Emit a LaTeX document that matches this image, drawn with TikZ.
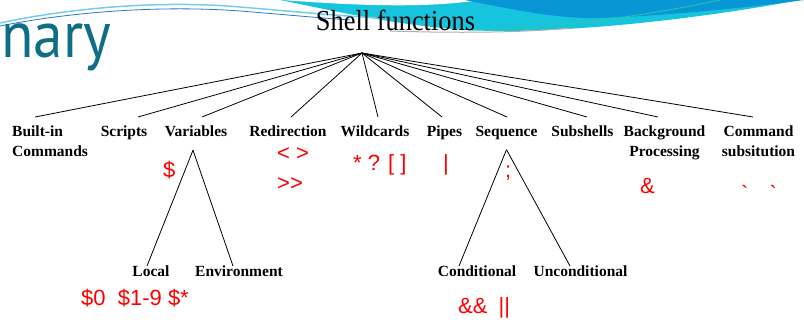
\documentclass[tikz,border=0pt]{standalone}
\usepackage{fontspec}
\setmainfont{Liberation Serif}
\newfontfamily\symfont[Ligatures=TeXOff]{Liberation Sans}
\newfontfamily\titlefont{PT Sans}
\definecolor{symred}{RGB}{255,0,0}
\definecolor{titleteal}{RGB}{14,110,133}
\definecolor{waveblue}{RGB}{8,150,215}
\definecolor{wavecyan}{RGB}{22,196,222}
\definecolor{wavelight}{RGB}{120,205,235}
\definecolor{wavedeep}{RGB}{40,120,210}
\definecolor{wavegreen}{RGB}{40,205,160}
\definecolor{wavegrey}{RGB}{175,175,175}

\begin{document}
\begin{tikzpicture}[x=1pt,y=-1pt,
  topic/.style={font=\bfseries\fontsize{15.5}{20}\selectfont, inner xsep=0pt,
    inner ysep=9pt, text depth=4pt, anchor=north, align=center},
  subtopic/.style={font=\bfseries\fontsize{15.5}{20}\selectfont, inner sep=0pt,
    anchor=north},
  sym/.style={font=\symfont\fontsize{22}{30}\selectfont, text=symred,
    inner sep=0pt, anchor=base west},
  branch/.style={draw=black, line width=0.8pt}]

\useasboundingbox (0,0) rectangle (804,322);

% decorative wave along the top edge
\fill[wavecyan] (280,0) .. controls (340,12) and (420,31) .. (500,31)
  .. controls (600,31) and (720,15) .. (800,0) -- cycle;
\fill[white] (282,0) .. controls (360,6) and (430,8) .. (480,0) -- cycle;
\fill[waveblue] (465,0) .. controls (520,11) and (560,19) .. (600,18)
  .. controls (680,15) and (750,7) .. (804,0) -- cycle;
\draw[wavegreen, line width=0.8pt] (470,30) .. controls (560,28) and (650,15) .. (720,0);
\draw[wavegrey, line width=1pt] (390,31) .. controls (450,33) and (520,33) .. (570,28);
\draw[wavelight, line width=1.5pt] (0,23) .. controls (70,8) and (160,0) .. (240,7)
  .. controls (300,12) and (340,16) .. (380,18);
\draw[wavedeep, line width=0.8pt] (0,26) .. controls (70,12) and (160,5) .. (240,11)
  .. controls (290,15) and (320,18) .. (350,20);

% slide heading
\node[font=\titlefont\fontsize{66}{74}\selectfont, text=titleteal, anchor=base west,
  inner sep=0pt, xscale=0.9] (heading) at (1,57) {nary};

% root of the tree
\node[font=\fontsize{29}{34}\selectfont, xscale=0.91, anchor=base, inner sep=0pt]
  (root) at (395.5,30) {Shell functions};
\coordinate (hub) at (362,53);

% first level
\node[topic, anchor=north west, align=left] (builtin) at (12,117) {Built-in\\Commands};
\node[topic] (scripts) at (124,117) {Scripts};
\node[topic] (variables) at (196,117) {Variables};
\node[topic] (redirection) at (288,117) {Redirection};
\node[topic] (wildcards) at (375,117) {Wildcards};
\node[topic] (pipes) at (444.5,117) {Pipes};
\node[topic] (sequence) at (506.5,117) {Sequence};
\node[topic] (subshells) at (582.5,117) {Subshells};
\node[topic] (background) at (664.5,117) {Background\\Processing};
\node[topic] (cmdsubst) at (758.5,117) {Command\\subsitution};

% second level
\node[subtopic] (local) at (151,266) {Local};
\node[subtopic] (environment) at (239,266) {Environment};
\node[subtopic] (conditional) at (477,266) {Conditional};
\node[subtopic] (unconditional) at (580.5,266) {Unconditional};

% shell symbols
\node[sym] (dollar) at (163,177) {\$};
\node[sym] (angles) at (277,160) {< >};
\node[sym] (append) at (277,190) {>>};
\node[sym] (globs) at (353,170) {* ? [ ]};
\node[sym] (bar) at (443,170) {|};
\node[sym] (semi) at (505,177) {;};
\node[sym] (amp) at (640,193) {\&};
\node[sym] (ticks) at (741,201) {`\hspace{21pt}`};
\node[sym] (posargs) at (81,305) {\$0\ \ \$1-9 \$*};
\node[sym] (logic) at (458,313) {\&\&\hspace{11pt}||};

% branches from the root
\draw[branch] (hub) -- ([xshift=-15pt]builtin.north);
\draw[branch] (hub) -- ([xshift=14pt]scripts.north);
\draw[branch] (hub) -- ([xshift=6pt]variables.north);
\draw[branch] (hub) -- ([xshift=3pt]redirection.north);
\draw[branch] (hub) -- ([xshift=3pt]wildcards.north);
\draw[branch] (hub) -- ([xshift=-2.5pt]pipes.north);
\draw[branch] (hub) -- ([xshift=0.5pt]sequence.north);
\draw[branch] (hub) -- ([xshift=4.5pt]subshells.north);
\draw[branch] (hub) -- ([xshift=-6.5pt]background.north);
\draw[branch] (hub) -- ([xshift=-5.5pt]cmdsubst.north);

% sub-branches
\draw[branch] ([xshift=-3pt]variables.south) -- ([xshift=-4pt]local.north);
\draw[branch] ([xshift=-3pt]variables.south) -- ([xshift=-6pt]environment.north);
\draw[branch] (sequence.south) -- ([xshift=-18pt]conditional.north);
\draw[branch] (sequence.south) -- ([xshift=-10.5pt]unconditional.north);
\end{tikzpicture}
\end{document}
